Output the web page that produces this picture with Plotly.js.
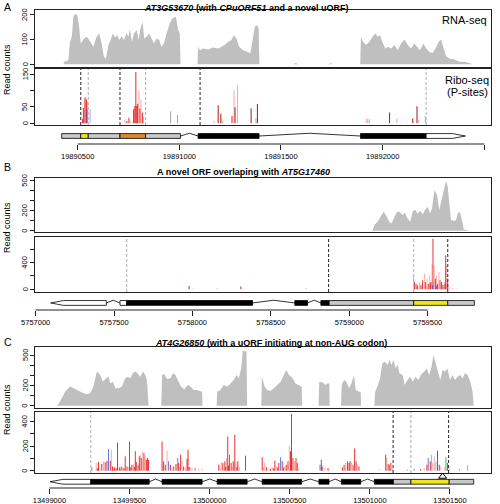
<!DOCTYPE html>
<html><head><meta charset="utf-8">
<script src="https://cdn.plot.ly/plotly-3.0.1.min.js"></script>
<style>html,body{margin:0;padding:0;background:#fff}#chart{width:500px;height:504px}</style>
</head><body><div id="chart"></div>
<script>
// ---------------- DATA ----------------
// Panel A: AT3G53670
const xTicksA = [19890500, 19891000, 19891500, 19892000, 19892500];
const rnaA = [[19890430,0],[19890433,10],[19890454,16],[19890462,90],[19890471,112],[19890479,193],[19890487,204],[19890498,200],[19890507,152],[19890515,84],[19890528,100],[19890541,112],[19890552,105],[19890564,91],[19890577,71],[19890593,112],[19890606,125],[19890618,84],[19890629,30],[19890639,23],[19890651,78],[19890662,98],[19890672,125],[19890683,109],[19890695,118],[19890705,98],[19890716,114],[19890728,98],[19890741,128],[19890749,112],[19890757,141],[19890767,91],[19890777,125],[19890790,139],[19890800,98],[19890809,146],[19890819,173],[19890827,105],[19890839,112],[19890852,125],[19890863,105],[19890875,84],[19890888,105],[19890901,98],[19890912,71],[19890924,84],[19890937,125],[19890953,166],[19890966,186],[19890983,193],[19890994,139],[19891002,125],[19891006,0],
 [19891089,0],[19891092,71],[19891101,57],[19891117,64],[19891142,60],[19891166,68],[19891191,64],[19891207,71],[19891223,78],[19891240,91],[19891256,98],[19891268,118],[19891281,105],[19891294,71],[19891313,57],[19891338,50],[19891349,44],[19891359,91],[19891371,152],[19891382,159],[19891390,146],[19891394,0],
 [19891461,0],[19891474,3],[19891485,0],[19891559,0],[19891572,5],[19891584,0],[19891731,0],[19891744,4],[19891755,0],
 [19891890,0],[19891893,112],[19891903,91],[19891919,78],[19891935,91],[19891952,114],[19891965,125],[19891976,112],[19891988,118],[19892001,84],[19892014,64],[19892025,71],[19892042,64],[19892058,78],[19892074,57],[19892091,84],[19892107,100],[19892124,78],[19892140,64],[19892156,84],[19892168,71],[19892184,57],[19892200,84],[19892214,64],[19892230,50],[19892246,46],[19892260,64],[19892276,91],[19892287,100],[19892299,71],[19892312,33],[19892328,23],[19892353,19],[19892377,10],[19892402,10],[19892426,5],[19892443,0]];
const riboA = [[19890523,12,'r'],[19890528,47,'r'],[19890533,73,'p'],[19890536,78,'r'],[19890539,81,'p'],[19890543,73,'r'],[19890546,43,'b'],[19890549,66,'p'],[19890561,43,'c'],
 [19890732,12,'p'],[19890742,7,'r'],[19890752,17,'r'],[19890762,7,'p'],[19890775,43,'r'],[19890781,53,'r'],[19890786,157,'r'],[19890791,53,'r'],[19890795,60,'r'],[19890801,100,'p'],[19890806,45,'r'],[19890811,73,'p'],[19890818,33,'r'],[19890823,20,'p'],
 [19890957,37,'k'],[19890991,25,'k'],
 [19891171,7,'p'],[19891191,55,'d'],[19891204,30,'d'],[19891210,12,'p'],[19891215,6,'p'],[19891259,22,'r'],[19891269,101,'p'],[19891274,49,'d'],[19891286,116,'p'],[19891353,46,'d'],[19891377,16,'k'],[19891384,59,'d'],
 [19891919,13,'p'],[19891927,15,'p'],[19891935,12,'p'],[19892034,33,'d'],[19892070,15,'p'],[19892148,15,'d'],[19892169,52,'d'],[19892178,10,'p'],[19892210,22,'c']];
const geneA = [[19890421,19890515,'u'],[19890515,19890552,'y'],[19890552,19890708,'u'],[19890708,19890834,'o'],[19890834,19891006,'u'],[19891092,19891392,'c'],[19891891,19892214,'c'],[19892214,19892407,'w']];
const intronsA = [[19891006,19891092],[19891392,19891891]];
const startsA = [19890515, 19890708, 19891102];
const stopsA = [19890552, 19890834, 19892214];

// Panel B: novel ORF overlapping AT5G17460
const xTicksB = [5757000, 5757500, 5758000, 5758500, 5759000, 5759500];
const rnaB = [[5757883,0],[5757900,4],[5757915,0],[5758660,0],[5758675,3],[5758692,0],
 [5759149,0],[5759160,57],[5759181,90],[5759202,140],[5759219,190],[5759234,157],[5759255,90],[5759270,73],[5759287,140],[5759304,190],[5759319,190],[5759340,157],[5759355,180],[5759372,123],[5759389,90],[5759404,190],[5759419,213],[5759436,173],[5759453,200],[5759468,163],[5759483,207],[5759500,240],[5759515,173],[5759528,223],[5759543,407],[5759560,357],[5759574,207],[5759589,307],[5759606,440],[5759617,500],[5759628,440],[5759638,273],[5759649,107],[5759666,97],[5759681,107],[5759696,190],[5759709,173],[5759723,73],[5759730,13],[5759751,7],[5759760,0]];
const riboB = [[5757979,50,'d'],[5758006,10,'p'],[5758155,15,'p'],[5758170,8,'p'],[5758213,5,'p'],[5758309,40,'d'],[5758326,10,'p'],[5758660,5,'p'],[5758723,20,'p'],
 [5759411,210,'p'],[5759417,110,'r'],[5759426,85,'r'],[5759430,40,'p'],[5759436,60,'r'],[5759447,110,'p'],[5759457,70,'r'],[5759462,50,'p'],[5759468,135,'r'],[5759479,235,'p'],[5759485,110,'r'],[5759490,70,'p'],[5759496,160,'p'],[5759504,85,'r'],[5759509,60,'p'],[5759513,210,'p'],[5759517,90,'r'],[5759521,110,'r'],[5759528,385,'p'],[5759531,60,'b'],[5759534,760,'r'],[5759538,120,'p'],[5759542,360,'p'],[5759549,160,'r'],[5759553,50,'b'],[5759557,210,'p'],[5759560,60,'r'],[5759564,85,'r'],[5759572,260,'p'],[5759579,135,'r'],[5759584,45,'p'],[5759589,110,'r'],[5759594,70,'p'],[5759598,60,'r'],[5759606,110,'p'],[5759610,80,'r'],[5759615,510,'r'],[5759621,360,'p'],[5759625,40,'g'],[5759628,160,'r'],[5759638,35,'p'],[5759660,20,'p'],[5759681,10,'p']];
const geneB = [[5757096,5757451,'w'],[5757538,5757581,'w'],[5757581,5758383,'c'],[5758653,5758734,'c'],[5758819,5758872,'c'],[5758872,5759411,'u'],[5759411,5759628,'y'],[5759628,5759798,'u']];
const intronsB = [[5757451,5757538],[5758383,5758653],[5758734,5758819]];
const startsB = [5758868, 5759628];
const stopsB = [5757581, 5759411];

// Panel C: AT4G26850
const xTicksC = [13499000, 13499500, 13500000, 13500500, 13501000, 13501500];
const rnaC = [[13499046,0],[13499056,13],[13499077,72],[13499098,138],[13499129,188],[13499150,171],[13499181,145],[13499213,122],[13499233,112],[13499254,122],[13499275,188],[13499296,336],[13499317,303],[13499334,237],[13499354,270],[13499369,286],[13499379,220],[13499396,237],[13499411,171],[13499432,171],[13499452,188],[13499473,270],[13499488,286],[13499504,270],[13499521,319],[13499536,336],[13499550,319],[13499567,286],[13499584,336],[13499598,303],[13499609,243],[13499619,0],
 [13499698,0],[13499703,303],[13499717,309],[13499734,263],[13499755,270],[13499771,319],[13499786,303],[13499801,253],[13499821,188],[13499842,161],[13499863,204],[13499880,188],[13499901,155],[13499921,155],[13499942,145],[13499953,138],[13499955,0],
 [13500044,0],[13500047,138],[13500067,155],[13500088,204],[13500109,188],[13500130,220],[13500151,253],[13500167,303],[13500182,270],[13500197,368],[13500207,549],[13500220,533],[13500230,540],[13500234,0],
 [13500322,0],[13500326,286],[13500343,188],[13500359,155],[13500380,145],[13500401,171],[13500422,204],[13500443,237],[13500463,303],[13500478,352],[13500495,303],[13500516,276],[13500536,220],[13500557,204],[13500574,188],[13500578,0],
 [13500680,0],[13500684,237],[13500703,230],[13500724,204],[13500734,220],[13500747,220],[13500749,0],
 [13500820,0],[13500824,204],[13500839,253],[13500853,237],[13500870,171],[13500885,220],[13500901,303],[13500912,155],[13500933,138],[13500943,138],[13500945,0],
 [13501028,0],[13501033,138],[13501047,188],[13501064,270],[13501078,418],[13501093,434],[13501110,401],[13501124,451],[13501135,401],[13501147,451],[13501162,368],[13501172,408],[13501185,319],[13501204,303],[13501218,204],[13501235,253],[13501251,286],[13501268,237],[13501285,286],[13501302,253],[13501318,303],[13501339,336],[13501356,368],[13501370,303],[13501385,385],[13501397,500],[13501408,434],[13501422,336],[13501439,253],[13501454,352],[13501468,336],[13501485,368],[13501500,253],[13501516,303],[13501531,253],[13501548,286],[13501564,303],[13501579,270],[13501593,319],[13501610,303],[13501627,237],[13501641,138],[13501648,0]];
const riboC = [[13499265,27,'b'],[13499292,63,'p'],[13499299,20,'r'],[13499306,71,'r'],[13499316,18,'p'],[13499327,54,'r'],[13499338,76,'p'],[13499348,68,'r'],[13499359,82,'r'],[13499369,177,'b'],[13499380,82,'r'],[13499386,171,'p'],[13499394,35,'r'],[13499400,20,'p'],[13499407,27,'r'],[13499416,22,'r'],[13499425,231,'r'],[13499436,27,'r'],[13499442,18,'p'],[13499448,35,'r'],[13499457,27,'p'],[13499465,22,'r'],[13499473,117,'r'],[13499484,35,'r'],[13499492,25,'p'],[13499500,239,'r'],[13499508,30,'r'],[13499515,49,'r'],[13499525,49,'p'],[13499530,30,'r'],[13499536,158,'r'],[13499542,71,'r'],[13499553,49,'r'],[13499561,117,'r'],[13499567,131,'p'],[13499573,103,'r'],[13499582,158,'p'],[13499590,144,'r'],[13499598,117,'p'],[13499605,90,'r'],[13499613,103,'r'],[13499619,90,'r'],
 [13499703,239,'r'],[13499708,40,'p'],[13499713,76,'r'],[13499723,49,'r'],[13499734,163,'p'],[13499744,76,'b'],[13499755,49,'r'],[13499766,25,'p'],[13499776,35,'r'],[13499790,54,'r'],[13499801,103,'b'],[13499807,63,'r'],[13499813,30,'p'],[13499819,131,'r'],[13499828,76,'p'],[13499838,35,'r'],[13499850,25,'p'],[13499859,98,'r'],[13499865,171,'r'],[13499872,30,'r'],[13499880,27,'p'],[13499890,27,'p'],[13499907,22,'p'],[13499911,22,'p'],[13499932,16,'p'],[13499953,16,'p'],
 [13500057,49,'r'],[13500065,25,'p'],[13500072,71,'p'],[13500082,63,'r'],[13500095,76,'r'],[13500100,30,'r'],[13500105,103,'p'],[13500113,280,'r'],[13500118,40,'r'],[13500124,131,'b'],[13500134,63,'r'],[13500140,30,'p'],[13500147,76,'r'],[13500157,294,'r'],[13500165,63,'p'],[13500170,30,'r'],[13500176,76,'r'],[13500186,27,'p'],[13500224,122,'r'],
 [13500328,109,'r'],[13500336,30,'p'],[13500343,63,'p'],[13500355,27,'r'],[13500370,22,'p'],[13500380,14,'r'],[13500391,27,'p'],[13500400,20,'r'],[13500407,82,'r'],[13500418,35,'p'],[13500425,25,'r'],[13500432,63,'r'],[13500443,109,'b'],[13500453,76,'r'],[13500462,25,'r'],[13500470,35,'p'],[13500478,49,'r'],[13500489,76,'r'],[13500497,199,'p'],[13500505,158,'r'],[13500511,462,'r'],[13500520,103,'r'],[13500530,76,'p'],[13500539,103,'r'],[13500547,63,'r'],[13500557,22,'p'],
 [13500689,49,'b'],[13500697,90,'r'],[13500702,30,'r'],[13500707,44,'p'],[13500720,22,'p'],[13500739,22,'r'],
 [13500828,27,'r'],[13500839,49,'r'],[13500849,63,'p'],[13500860,76,'r'],[13500870,63,'r'],[13500876,76,'r'],[13500885,68,'p'],[13500895,49,'r'],[13500900,30,'p'],[13500905,180,'r'],[13500914,76,'r'],[13500922,49,'p'],[13500932,35,'r'],
 [13501058,8,'k'],[13501099,131,'r'],[13501105,103,'p'],[13501114,54,'r'],[13501122,49,'g'],[13501131,63,'r'],[13501141,22,'p'],
 [13501235,8,'k'],[13501276,16,'g'],[13501318,14,'r'],[13501339,22,'p'],[13501356,49,'r'],[13501364,103,'b'],[13501377,76,'r'],[13501385,131,'c'],[13501393,63,'p'],[13501402,117,'p'],[13501412,76,'c'],[13501422,163,'r'],[13501433,49,'r'],[13501443,35,'p'],[13501468,35,'p'],[13501475,109,'g'],[13501485,63,'r'],[13501495,22,'p'],[13501558,16,'k'],[13501610,44,'k']];
const geneC = [[13499004,13499258,'w'],[13499258,13499623,'c'],[13499703,13499953,'c'],[13500047,13500234,'c'],[13500328,13500574,'c'],[13500682,13500745,'c'],[13500822,13500943,'c'],[13501028,13501147,'c'],[13501147,13501256,'u'],[13501256,13501495,'y'],[13501495,13501648,'u']];
const intronsC = [[13499623,13499703],[13499953,13500047],[13500234,13500328],[13500574,13500682],[13500745,13500822],[13500943,13501028]];
const startsC = [13501145, 13501491];
const stopsC = [13499258, 13501256];
const markerC = [13501454];

// ---------------- STYLE / LAYOUT ----------------
const FONT = '"Liberation Sans", Arial, Helvetica, sans-serif';
const W = 500, H = 504;
const PX = v => v / W, PY = v => 1 - v / H;
const BAR_COL = {r:'rgba(228,0,0,0.85)', p:'rgba(236,96,96,0.55)', d:'rgba(165,0,0,0.9)', b:'rgba(50,80,220,0.8)', c:'rgba(130,120,220,0.65)', g:'rgba(30,170,40,0.85)', k:'rgba(150,150,150,0.85)'};
const SEG_FILL = {u:'#c8c8c8', c:'#000000', y:'#f2e41e', o:'#e0892a', w:'#ffffff'};
const LINE = '#222';

const panels = [
 {letter:'A', title:'<b><i>AT3G53670</i> (with <i>CPuORF51</i> and a novel uORF)</b>', titleX:246, titleY:8, letterY:7,
  xRange:[19890290,19892533], xTicks:xTicksA, rna:rnaA, ribo:riboA, gene:geneA, introns:intronsA, starts:startsA, stops:stopsA, strand:'+',
  rnaBox:[10,67], riboBox:[69,125], geneBox:[128,144], geneMid:0.5, rnaRange:[-11,220], riboRange:[-5.2,166],
  rnaTv:[0,100,200], rnaTt:['0','100','200'], riboTv:[0,50,100,150], riboTt:['0','50','','150'], barW:5, readY:70},
 {letter:'B', title:'<b>A novel ORF overlaping with <i>AT5G17460</i></b>', titleX:243, titleY:172, letterY:167,
  xRange:[5756996,5759904], xTicks:xTicksB, rna:rnaB, ribo:riboB, gene:geneB, introns:intronsB, starts:startsB, stops:stopsB, strand:'-',
  rnaBox:[178,232], riboBox:[237,292], geneBox:[294,310], geneMid:0.44, rnaRange:[-13,527], riboRange:[-41,787],
  rnaTv:[0,100,200,300,400,500], rnaTt:['0','','200','','','500'], riboTv:[0,200,400,600], riboTt:['0','','400',''], barW:6, readY:228},
 {letter:'C', title:'<b><i>AT4G26850</i> (with a uORF initiating at non-AUG codon)</b>', titleX:271, titleY:343, letterY:342,
  xRange:[13498910,13501756], xTicks:xTicksC, rna:rnaC, ribo:riboC, gene:geneC, introns:intronsC, starts:startsC, stops:stopsC, strand:'-',
  rnaBox:[347,408], riboBox:[412,473], geneBox:[472,488], geneMid:0.39, rnaRange:[-23,579], riboRange:[-19,479],
  rnaTv:[0,100,200,300,400,500], rnaTt:['0','','200','','','500'], riboTv:[0,100,200,300,400], riboTt:['0','','200','','400'], barW:6, readY:410, marker:markerC}
];

const traces = [], shapes = [], annotations = [];
const layout = {width:W, height:H, margin:{l:0,r:0,t:0,b:0}, showlegend:false, barmode:'overlay',
  paper_bgcolor:'#fff', plot_bgcolor:'rgba(0,0,0,0)', font:{family:FONT, color:'#000', size:8}};
const XD = [PX(35), PX(491)];
const id = n => (n === 1 ? '' : String(n));

panels.forEach((P, i) => {
  const nR = 3*i+1, nB = 3*i+2, nG = 3*i+3;
  const boxAxisX = (n) => ({domain:XD, range:P.xRange, anchor:'y'+id(n), showline:true, mirror:true, linecolor:LINE, linewidth:1,
    ticks:'', showticklabels:false, showgrid:false, zeroline:false});
  const boxAxisY = (n, box, range, tv) => ({domain:[PY(box[1]), PY(box[0])], range, anchor:'x'+id(n), showline:true, mirror:true,
    linecolor:LINE, linewidth:1, ticks:'outside', ticklen:4, tickwidth:1, tickcolor:LINE, tickvals:tv, showticklabels:false,
    showgrid:false, zeroline:false});
  layout['xaxis'+id(nR)] = boxAxisX(nR);
  layout['yaxis'+id(nR)] = boxAxisY(nR, P.rnaBox, P.rnaRange, P.rnaTv);
  layout['xaxis'+id(nB)] = boxAxisX(nB);
  layout['yaxis'+id(nB)] = boxAxisY(nB, P.riboBox, P.riboRange, P.riboTv);
  layout['xaxis'+id(nG)] = {domain:XD, range:P.xRange, anchor:'y'+id(nG), showline:false, ticks:'outside', ticklen:5, tickwidth:1,
    tickcolor:LINE, tickvals:P.xTicks, ticktext:P.xTicks.map(String), tickfont:{size:7.5, family:FONT, color:'#000'}, showgrid:false, zeroline:false};
  layout['yaxis'+id(nG)] = {domain:[PY(P.geneBox[1]), PY(P.geneBox[0])], range:[0,1], anchor:'x'+id(nG), visible:false, fixedrange:true};

  // rotated y tick labels (as in R's default axis), positioned on the axis values
  [[nR, P.rnaTv, P.rnaTt], [nB, P.riboTv, P.riboTt]].forEach(([n, tv, tt]) => {
    tv.forEach((v, j) => {
      if (!tt[j]) return;
      annotations.push({xref:'paper', yref:'y'+id(n), x:PX(25), y:v, text:tt[j], textangle:-90, showarrow:false,
        xanchor:'center', yanchor:'middle', font:{size:7.5, family:FONT, color:'#000'}});
    });
  });

  traces.push({type:'scatter', mode:'lines', x:P.rna.map(d=>d[0]), y:P.rna.map(d=>d[1]), fill:'tozeroy',
    fillcolor:'#bfbfbf', line:{width:0, color:'#bfbfbf'}, xaxis:'x'+id(nR), yaxis:'y'+id(nR), hoverinfo:'skip'});
  Object.keys(BAR_COL).forEach(k => {
    const sel = P.ribo.filter(d => d[2] === k);
    if (!sel.length) return;
    traces.push({type:'bar', x:sel.map(d=>d[0]), y:sel.map(d=>d[1]), width:P.barW, marker:{color:BAR_COL[k], line:{width:0}},
      xaxis:'x'+id(nB), yaxis:'y'+id(nB), hoverinfo:'skip'});
  });
  P.starts.forEach(s => shapes.push({type:'line', xref:'x'+id(nB), yref:'y'+id(nB)+' domain', x0:s, x1:s, y0:0, y1:1,
    line:{color:'#3a3a3a', width:1.1, dash:'3px,2px'}, layer:'above'}));
  P.stops.forEach(s => shapes.push({type:'line', xref:'x'+id(nB), yref:'y'+id(nB)+' domain', x0:s, x1:s, y0:0, y1:1,
    line:{color:'#b5b5b5', width:1.1, dash:'3px,2px'}, layer:'above'}));
  shapes.push({type:'line', xref:'x'+id(nG), yref:'y'+id(nG)+' domain', x0:P.xTicks[0], x1:P.xTicks[P.xTicks.length-1], y0:0, y1:0,
    line:{color:LINE, width:1}});
  const xr = 'x'+id(nG), yr = 'y'+id(nG), m = P.geneMid, h = 0.15, L = (P.xRange[1]-P.xRange[0])*0.028;
  P.introns.forEach(([a,b]) => {
    const c = (a+b)/2;
    shapes.push({type:'path', xref:xr, yref:yr, path:`M${a},${m} L${c},${m+0.17} L${b},${m}`, line:{color:'#000', width:0.8}, layer:'above'});
  });
  P.gene.forEach(([a,b,k], j) => {
    const tip = (P.strand === '+' && j === P.gene.length-1) || (P.strand === '-' && j === 0);
    if (tip) {
      const path = P.strand === '+'
        ? `M${a},${m-h} L${b-L},${m-h} L${b},${m} L${b-L},${m+h} L${a},${m+h} Z`
        : `M${b},${m-h} L${a+L},${m-h} L${a},${m} L${a+L},${m+h} L${b},${m+h} Z`;
      shapes.push({type:'path', xref:xr, yref:yr, path, fillcolor:SEG_FILL[k], line:{color:'#000', width:0.8}, layer:'above'});
    } else {
      shapes.push({type:'rect', xref:xr, yref:yr, x0:a, x1:b, y0:m-h, y1:m+h, fillcolor:SEG_FILL[k], line:{color:'#000', width:0.8}, layer:'above'});
    }
  });
  if (P.marker) {
    traces.push({type:'scatter', mode:'markers', x:P.marker, y:P.marker.map(()=>m+0.33), xaxis:xr, yaxis:yr,
      marker:{symbol:'triangle-up-open', size:7, color:'#000', line:{width:1}}, hoverinfo:'skip', cliponaxis:false});
  }
  annotations.push({xref:'paper', yref:'paper', x:PX(P.titleX), y:PY(P.titleY), text:P.title, showarrow:false,
    xanchor:'center', yanchor:'middle', font:{size:9, family:FONT}});
  annotations.push({xref:'paper', yref:'paper', x:PX(2), y:PY(P.letterY), text:P.letter, showarrow:false,
    xanchor:'left', yanchor:'middle', font:{size:10.5, family:FONT}});
  annotations.push({xref:'paper', yref:'paper', x:PX(7), y:PY(P.readY), text:'Read counts', textangle:-90, showarrow:false,
    xanchor:'center', yanchor:'middle', font:{size:9, family:FONT}});
});
annotations.push({xref:'paper', yref:'paper', x:PX(489), y:PY(20), text:'RNA-seq', showarrow:false, xanchor:'right', yanchor:'middle', font:{size:11, family:FONT}});
annotations.push({xref:'paper', yref:'paper', x:PX(467), y:PY(80), text:'Ribo-seq', showarrow:false, xanchor:'center', yanchor:'middle', font:{size:11, family:FONT}});
annotations.push({xref:'paper', yref:'paper', x:PX(467), y:PY(92), text:'(P-sites)', showarrow:false, xanchor:'center', yanchor:'middle', font:{size:11, family:FONT}});

layout.shapes = shapes;
layout.annotations = annotations;
Plotly.newPlot('chart', traces, layout, {staticPlot:true, displayModeBar:false});
</script></body></html>
